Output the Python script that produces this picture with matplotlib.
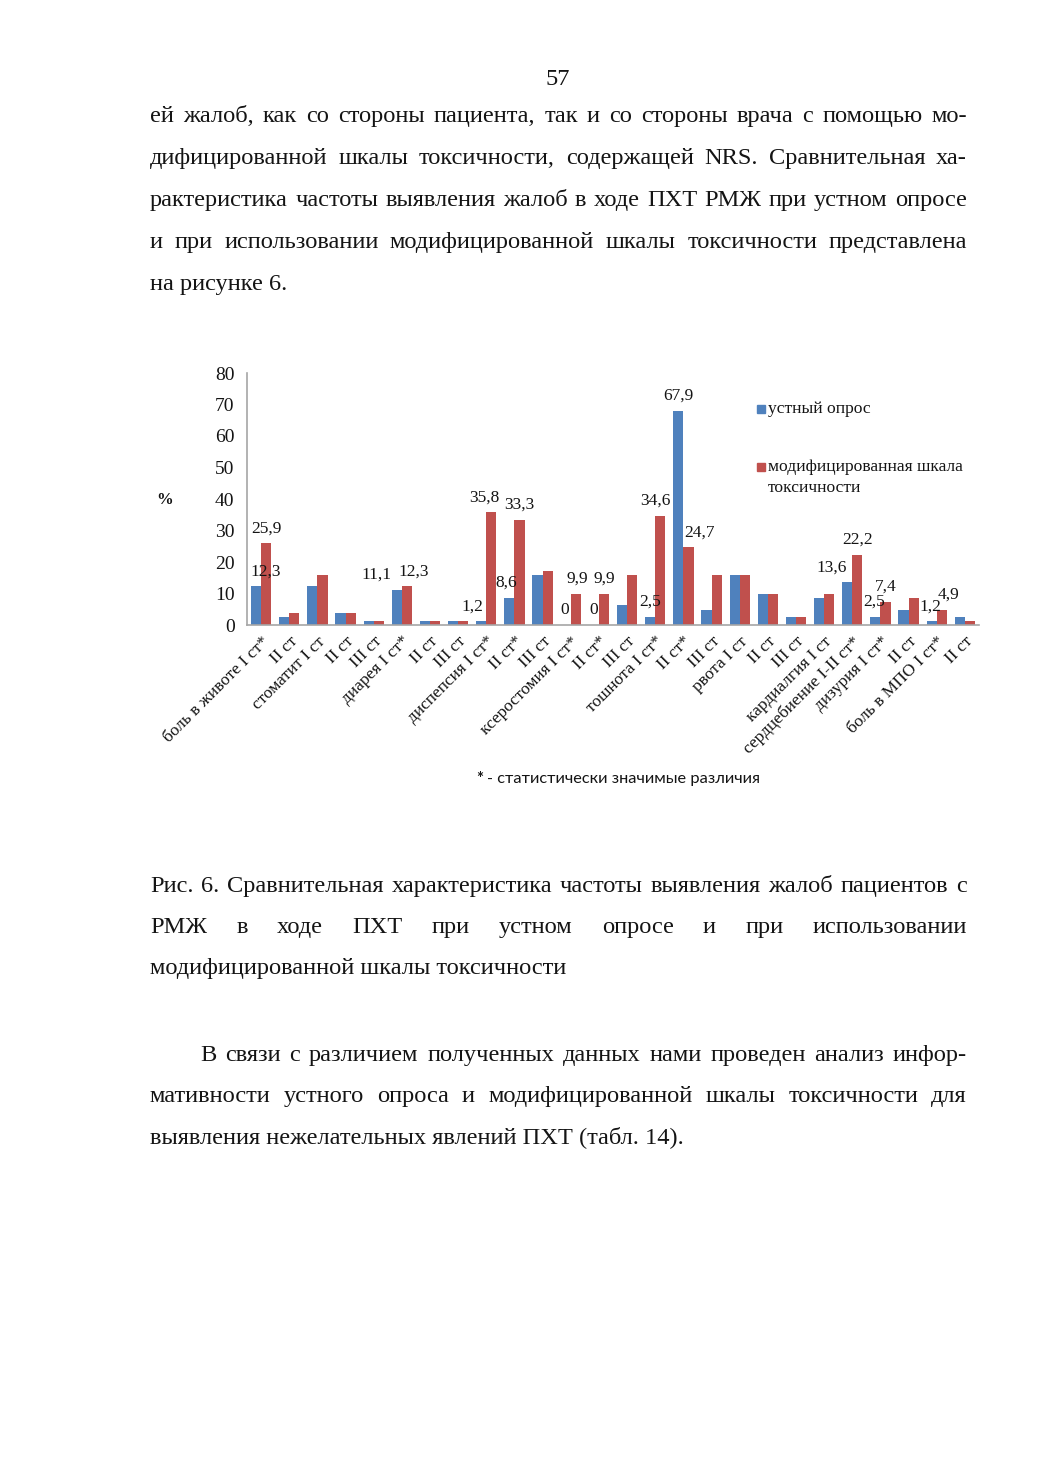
import numpy as np
import matplotlib
matplotlib.use("Agg")
import matplotlib.pyplot as plt
from matplotlib.patches import Rectangle
from matplotlib.transforms import ScaledTranslation

# data
categories = [
    "боль в животе I ст*", "II ст", "стоматит I ст", "II ст", "III ст",
    "диарея I ст*", "II ст", "III ст", "диспепсия I ст*", "II ст*", "III ст",
    "ксеростомия I ст*", "II ст*", "III ст", "тошнота I ст*", "II ст*", "III ст",
    "рвота I ст", "II ст", "III ст", "кардиалгия I ст", "сердцебиение I-II ст*",
    "дизурия I ст*", "II ст", "боль в МПО I ст*", "II ст",
]
oral = [12.3, 2.5, 12.3, 3.7, 1.2, 11.1, 1.2, 1.2, 1.2, 8.6, 16.0, 0, 0, 6.2,
        2.5, 67.9, 4.9, 16.0, 9.9, 2.5, 8.6, 13.6, 2.5, 4.9, 1.2, 2.5]
scale = [25.9, 3.7, 16.0, 3.7, 1.2, 12.3, 1.2, 1.2, 35.8, 33.3, 17.3, 9.9, 9.9, 16.0,
         34.6, 24.7, 16.0, 16.0, 9.9, 2.5, 9.9, 22.2, 7.4, 8.6, 4.9, 1.2]
yticks = [0, 10, 20, 30, 40, 50, 60, 70, 80]
series_names = ["устный опрос", "модифицированная шкала\nтоксичности"]

# which bars carry a value label: (category, series, horizontal shift in px)
labelled = [
    (0, 0, 10), (0, 1, 0), (5, 0, -20), (5, 1, 7), (8, 0, -9), (8, 1, -7),
    (9, 0, -3), (9, 1, 0), (11, 0, -1), (11, 1, 1), (12, 0, 0), (12, 1, 0),
    (14, 0, 0), (14, 1, -5), (15, 0, 0), (15, 1, 11), (21, 0, -16), (21, 1, 0),
    (22, 0, -1), (22, 1, 0), (24, 0, -1), (24, 1, 7),
]

page_top = [
    ("ей  жалоб, как со стороны пациента, так и со стороны врача с помощью мо-", True),
    ("дифицированной шкалы токсичности, содержащей NRS. Сравнительная ха-", True),
    ("рактеристика частоты выявления жалоб в ходе ПХТ РМЖ при устном опросе", True),
    ("и при использовании модифицированной шкалы токсичности представлена", True),
    ("на рисунке 6.", False),
]
caption = [
    ("Рис. 6. Сравнительная характеристика частоты выявления жалоб пациентов с", True),
    ("РМЖ в ходе ПХТ при устном опросе и при использовании", True),
    ("модифицированной шкалы токсичности", False),
]
page_bottom = [
    ("В связи с различием полученных данных нами проведен анализ инфор-", True),
    ("мативности устного опроса и модифицированной шкалы токсичности для", True),
    ("выявления нежелательных явлений ПХТ (табл. 14).", False),
]

W, H = 1041, 1472
BLUE, RED = "#4f81bd", "#c0504d"
INK = "#141414"
SERIF = "Liberation Serif"
BODY = 17.6

fig = plt.figure(figsize=(W / 100, H / 100), dpi=100)
fig.patch.set_facecolor("white")
renderer = fig.canvas.get_renderer()


def fx(x):
    return x / W


def fy(y):
    return 1 - y / H


def put_line(text, x0, x1, y, justify, size=BODY):
    if not justify:
        fig.text(fx(x0), fy(y), text, fontsize=size, family=SERIF, color=INK,
                 ha="left", va="baseline")
        return
    words = text.split()
    items = [fig.text(0, fy(y), w, fontsize=size, family=SERIF, color=INK,
                      ha="left", va="baseline") for w in words]
    widths = [t.get_window_extent(renderer).width for t in items]
    gap = (x1 - x0 - sum(widths)) / (len(words) - 1)
    x = x0
    for t, wd in zip(items, widths):
        t.set_x(fx(x))
        x += wd + gap


fig.text(fx(558), fy(85), "57", fontsize=BODY, family=SERIF, color=INK,
         ha="center", va="baseline")
for i, (line, just) in enumerate(page_top):
    put_line(line, 150, 967, 122 + 42 * i, just)
for i, (line, just) in enumerate(caption):
    put_line(line, 150, 967, 892 + 41 * i, just)
for i, (line, just) in enumerate(page_bottom):
    put_line(line, 200 if i == 0 else 150, 967, 1061 + 41 * i, just)

# chart
ax = fig.add_axes([fx(247), fy(625), (979 - 247) / W, (625 - 373) / H])
x = np.arange(len(categories))
bw = 0.36
ax.bar(x - bw / 2, oral, bw, color=BLUE)
ax.bar(x + bw / 2, scale, bw, color=RED)
ax.set_xlim(-0.5, len(categories) - 0.5)
ax.set_ylim(0, 80)
ax.set_yticks(yticks)
ax.set_yticklabels([str(t) for t in yticks], fontsize=14, family=SERIF, color=INK)
ax.set_xticks(x)
ax.set_xticklabels(categories, rotation=45, ha="right", rotation_mode="anchor",
                   fontsize=12.5, family=SERIF, color=INK)
shift = ScaledTranslation(8 / 100, 0, fig.dpi_scale_trans)
for lab in ax.get_xticklabels():
    lab.set_transform(lab.get_transform() + shift)
ax.tick_params(axis="both", length=0)
ax.tick_params(axis="y", pad=9)
ax.tick_params(axis="x", pad=6)
for s in ["top", "right"]:
    ax.spines[s].set_visible(False)
for s in ["left", "bottom"]:
    ax.spines[s].set_color("#a6a6a6")
    ax.spines[s].set_linewidth(1.2)

series = [oral, scale]
for cat, ser, dx in labelled:
    v = series[ser][cat]
    xpos = cat + (bw / 2 if ser else -bw / 2)
    ax.annotate(f"{v:g}".replace(".", ","), xy=(xpos, v),
                xytext=(dx * 0.72, 15 * 0.72), textcoords="offset points",
                ha="center", va="center", fontsize=12.5, family=SERIF, color=INK)

fig.text(fx(165), fy(500), "%", fontsize=12, family=SERIF, weight="bold",
         color=INK, ha="center", va="center")

# legend
for yc, col in zip([409, 467], [BLUE, RED]):
    fig.patches.append(Rectangle((fx(757), fy(yc + 4)), 8 / W, 8 / H, color=col,
                                 transform=fig.transFigure, figure=fig))
fig.text(fx(768), fy(409), series_names[0], fontsize=12.6, family=SERIF, color=INK,
         ha="left", va="center")
for j, part in enumerate(series_names[1].split("\n")):
    fig.text(fx(768), fy(467 + 21 * j), part, fontsize=12.6, family=SERIF, color=INK,
             ha="left", va="center")

fig.text(fx(480), fy(779), "*", fontsize=12, family="Lato", weight="bold",
         color=INK, ha="center", va="center")
fig.text(fx(487), fy(779), "- статистически значимые различия", fontsize=11.8,
         family="Lato", color=INK, ha="left", va="center")

fig.savefig("out.png", dpi=100, facecolor="white")
